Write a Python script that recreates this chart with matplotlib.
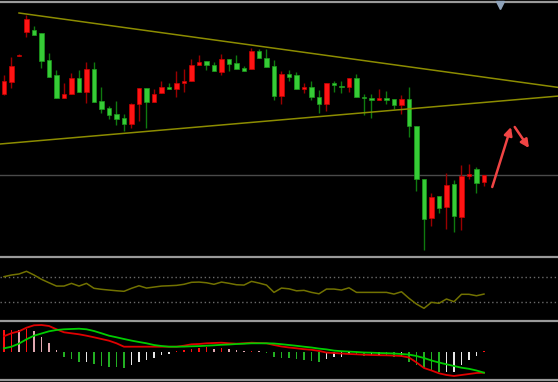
import matplotlib.pyplot as plt
from matplotlib.lines import Line2D
import numpy as np

# velas (escala de preço arbitrária)
abertura = [206, 218, 244, 268, 270, 267, 240, 225, 202, 206,
            222, 208, 231, 199, 192, 186, 182, 176, 196, 212,
            198, 207, 213, 211, 217, 219, 235, 239, 235, 228,
            241, 237, 232, 231, 249, 242, 234, 204, 226, 225,
            211, 213, 203, 196, 217, 214, 213, 222, 203, 202,
            200, 202, 201, 195, 201, 174, 121, 82, 104, 93,
            116, 83, 124, 131, 118]
maxima = [225, 243, 246, 285, 274, 267, 247, 230, 217, 227,
          230, 238, 238, 213, 194, 199, 186, 197, 212, 212,
          211, 219, 217, 229, 231, 241, 245, 239, 238, 246,
          241, 245, 234, 252, 251, 251, 240, 229, 230, 228,
          217, 219, 210, 217, 219, 219, 222, 226, 206, 206,
          211, 209, 201, 205, 213, 174, 121, 107, 104, 127,
          120, 135, 136, 133, 125]
minima = [205, 212, 244, 263, 265, 232, 223, 202, 202, 206,
          208, 197, 198, 187, 181, 175, 169, 172, 179, 172,
          198, 207, 211, 203, 208, 219, 235, 230, 229, 225,
          229, 231, 229, 231, 242, 233, 200, 196, 219, 211,
          207, 200, 187, 189, 208, 207, 208, 203, 185, 182,
          200, 196, 191, 186, 163, 109, 50, 74, 87, 71,
          68, 70, 121, 107, 114]
fechamento = [219, 234, 245.3, 281, 265, 239, 223, 202, 206, 222,
              208, 231, 198, 191, 185, 181, 176, 196, 212, 198,
              206, 213, 211, 217, 219, 235, 238, 235, 229, 241,
              236, 231, 229, 249, 242, 233, 204, 226, 223, 211,
              213, 203, 196, 217, 215, 213, 222, 203, 202, 200,
              202, 200, 195, 201, 174, 121, 81, 103, 92, 115,
              84, 124, 126, 117, 125]

rsi = [70, 72.7, 74.3, 78.6, 72.7, 65.8, 60.3, 55, 55, 59.3,
       55, 59.3, 51.4, 49.8, 48.6, 47.5, 46.6, 51.4, 55.5, 51.8,
       53.4, 55, 55.5, 56.1, 57.8, 61, 61.4, 60.3, 57.8, 61.4,
       59.4, 57.1, 56.6, 62.5, 59.8, 56.6, 44.9, 51.8, 50.6, 47.4,
       48.1, 44.9, 42.6, 50.2, 50.2, 48.6, 52.2, 44.9, 44.9, 44.9,
       44.9, 44.9, 42.2, 45.9, 35.4, 26.2, 19.4, 29, 27.4, 34.3,
       30, 41.8, 41.8, 39.5, 42.2]

dif = [15.5, 18.5, 20.4, 24, 26.4, 26.7, 25.7, 22.4, 19.4, 18.4,
       17.4, 16, 14.4, 12.7, 11, 8.4, 5, 5, 5, 5,
       5, 5, 5, 5, 6, 7.4, 7.7, 8.4, 8.7, 9,
       8.4, 8, 8.4, 9, 8.7, 8.4, 6.7, 5.2, 4.2, 3.4,
       2.5, 1.9, 0.8, -0.9, -1.3, -1.8, -2.3, -2.6, -3, -3.3,
       -3.5, -3.6, -3.9, -4.3, -5.8, -10.7, -16.3, -18.8, -21.6, -23.3,
       -24.3, -23.3, -22.3, -21.3, -21]
dea = [3.4, 5, 8.1, 12.4, 16, 18.2, 20.4, 21.7, 22.4, 22.7,
       23, 22.4, 20.7, 18.4, 16, 14.4, 12.7, 11.1, 9.7, 8.4,
       6.7, 5.7, 5, 5, 5.1, 5.4, 5.6, 6, 6.4, 6.9,
       7.2, 7.7, 8, 8.4, 8.4, 8.4, 8.2, 7.5, 6.7, 5.9,
       5, 4.2, 3.1, 2.3, 1.1, 0.5, 0.1, -0.3, -0.8, -1,
       -1.3, -1.5, -1.8, -2.3, -2.9, -4.3, -6.3, -8.8, -10.8, -12.6,
       -14.3, -16, -17.1, -18.8, -21]
histograma = [21.7, 22, 21.3, 22.7, 20.7, 15, 8.3, 1.7, -5.7, -7.3,
              -10.7, -10.5, -12.7, -14, -15, -15.7, -16, -13.3, -10.7, -8.3,
              -6.7, -3.7, -2.3, 1, 1.7, 2.7, 4, 4.3, 3, 3.3,
              2.7, 1.7, 0.8, 0.9, 0.6, -1.7, -5.7, -5.8, -6.7, -7.7,
              -8.3, -9, -10, -7.7, -5.7, -5, -2.7, -3.3, -4.3, -3.5,
              -3, -4, -5, -4, -10, -13.3, -16.7, -19, -20.7, -20,
              -19.9, -13.3, -8.3, -4.3, 0.7]

# desenhos feitos à mão no gráfico
linhaSuperior = [(2, 287), (74, 212.5)]
linhaInferior = [(-0.53, 156), (74, 204)]
precoAtual = 125
setaSobe = [(65.1, 113), (67.6, 173)]
setaDesce = [(68.1, 173), (70.0, 152)]

XLIM = (-0.533, 73.87)


def prepararEixo(ax, ylim):
    ax.set_facecolor('black')
    ax.set_xlim(*XLIM)
    ax.set_ylim(*ylim)
    ax.set_xticks([])
    ax.set_yticks([])
    for s in ax.spines.values():
        s.set_visible(False)


def desenharVelas(ax):
    for i in range(len(abertura)):
        sobe = fechamento[i] >= abertura[i]
        corCorpo = '#ff1414' if sobe else '#36cc36'
        corBorda = '#c80000' if sobe else '#1c9a1c'
        corPavio = '#9a0000' if sobe else '#0f7a0f'
        ax.vlines(i, minima[i], maxima[i], color=corPavio, linewidth=1, zorder=2)
        base = min(abertura[i], fechamento[i])
        altura = max(abs(fechamento[i] - abertura[i]), 1.4)
        ax.bar(i, altura, bottom=base, width=0.66, color=corCorpo,
               edgecolor=corBorda, linewidth=0.5, zorder=3)


def coresHistograma(h):
    cores = []
    ant = 0
    for v in h:
        if v >= 0:
            cores.append('#ff1010' if v > ant else '#e0a8b0')
        else:
            cores.append('#22b022' if v < ant else '#e8e8e8')
        ant = v
    return cores


fig = plt.figure(figsize=(5.58, 3.82), dpi=100, facecolor='black')
H = 382.0

# painel principal
ax1 = fig.add_axes([0, 1 - 256 / H, 1, 253 / H])
prepararEixo(ax1, (44, 297))
ax1.axhline(precoAtual, color='#4a4a4a', linewidth=1, zorder=1)
desenharVelas(ax1)
for linha in (linhaSuperior, linhaInferior):
    xs, ys = zip(*linha)
    ax1.plot(xs, ys, color='#8c8c00', linewidth=1.1, zorder=4)
for seta in (setaSobe, setaDesce):
    ax1.annotate('', xy=seta[1], xytext=seta[0],
                 arrowprops=dict(arrowstyle='-|>', color='#f04444', lw=1.8,
                                 mutation_scale=12, shrinkA=0, shrinkB=0))

x = np.arange(len(rsi))

# painel RSI
ax2 = fig.add_axes([0, 1 - 320 / H, 1, 62 / H])
prepararEixo(ax2, (0.7, 99.9))
for nivel in (30, 70):
    ax2.axhline(nivel, color='#6a6a6a', linewidth=1, linestyle=(0, (1, 2)))
ax2.plot(x, rsi, color='#727200', linewidth=1.1)

# painel MACD
ax3 = fig.add_axes([0, 1 - 378 / H, 1, 56 / H])
prepararEixo(ax3, (-26.3, 29.7))
ax3.bar(x, histograma, width=0.24, color=coresHistograma(histograma), zorder=2)
ax3.plot(x, dif, color='#e00000', linewidth=1.3, zorder=3)
ax3.plot(x, dea, color='#00cc00', linewidth=1.3, zorder=3)

# linhas de separação dos painéis
for y in (1.5, 257, 321, 379.5):
    fig.add_artist(Line2D([0, 1], [1 - y / H, 1 - y / H], transform=fig.transFigure,
                          color='#9a9a9a', linewidth=1.6))
fig.add_artist(Line2D([500 / 558.0], [1 - 5 / H], transform=fig.transFigure,
                      marker='v', markersize=6, color='#8fa3ba', linestyle='none'))

fig.savefig('out.png', dpi=100, facecolor='black')
